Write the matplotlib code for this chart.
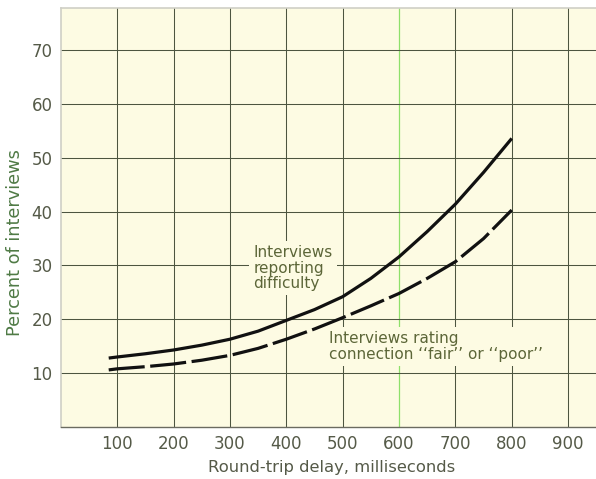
import matplotlib
matplotlib.use("Agg")
import matplotlib.pyplot as plt

# Round-trip delay (ms) and percent of interviews
delay_ms = [85, 100, 150, 200, 250, 300, 350, 400, 450, 500, 550, 600, 650, 700, 750, 800]
reporting_difficulty = [12.8, 13.0, 13.6, 14.3, 15.2, 16.3, 17.8, 19.8, 21.8, 24.2, 27.6, 31.6, 36.3, 41.4, 47.3, 53.6]
rating_fair_poor = [10.6, 10.8, 11.2, 11.7, 12.4, 13.3, 14.6, 16.3, 18.2, 20.3, 22.5, 24.8, 27.6, 30.7, 35.0, 40.3]

x_ticks = [100, 200, 300, 400, 500, 600, 700, 800, 900]
y_ticks = [10, 20, 30, 40, 50, 60, 70]

paper = "#fdfbe3"
grid_col = "#4d5540"
tick_col = "#555a48"
label_col = "#4f7a45"
note_col = "#5c6638"

plt.rcParams["font.family"] = ["DejaVu Sans"]
plt.rcParams["lines.scale_dashes"] = False

fig = plt.figure(figsize=(5.96, 4.79), dpi=100)
ax = fig.add_axes([0.102, 0.1086, 0.908, 0.8744])
ax.set_facecolor(paper)
ax.set_xlim(0, 960)
ax.set_ylim(0, 77.8)

# grid
for xv in x_ticks:
    if xv == 600:
        ax.axvline(xv, color="#8ee06a", lw=0.9, zorder=1)
    else:
        ax.axvline(xv, color=grid_col, lw=0.75, zorder=1)
for yv in y_ticks:
    ax.axhline(yv, color=grid_col, lw=0.75, zorder=1)

ax.plot(delay_ms, reporting_difficulty, color="#111111", lw=2.3,
        solid_capstyle="butt", solid_joinstyle="round", zorder=3)
ax.plot(delay_ms, rating_fair_poor, color="#111111", lw=2.3,
        linestyle=(0, (26, 4)), dash_capstyle="butt", dash_joinstyle="round", zorder=3)

ax.set_xticks(x_ticks)
ax.set_yticks(y_ticks)
ax.tick_params(length=0, labelsize=12, colors=tick_col, pad=6)

for side in ["top", "left"]:
    ax.spines[side].set_color("#cfcfc6")
    ax.spines[side].set_linewidth(1.2)
ax.spines["bottom"].set_color("#6b6b60")
ax.spines["bottom"].set_linewidth(1.0)
ax.spines["right"].set_visible(False)

ax.set_xlabel("Round-trip delay, milliseconds", fontsize=11.8, color=tick_col, labelpad=5)
ax.set_ylabel("Percent of interviews", fontsize=12.8, color=label_col)
ax.yaxis.set_label_coords(-0.068, 0.44)

box = dict(facecolor=paper, edgecolor="none", pad=3)
ax.text(342, 33.8, "Interviews\nreporting\ndifficulty", fontsize=11, color=note_col,
        va="top", ha="left", linespacing=1.05, bbox=box, zorder=4)
ax.text(476, 17.8, "Interviews rating\nconnection \u2018\u2018fair\u2019\u2019 or \u2018\u2018poor\u2019\u2019",
        fontsize=11, color=note_col, va="top", ha="left", linespacing=1.05, bbox=box, zorder=4)

fig.savefig("out.png", dpi=100)
